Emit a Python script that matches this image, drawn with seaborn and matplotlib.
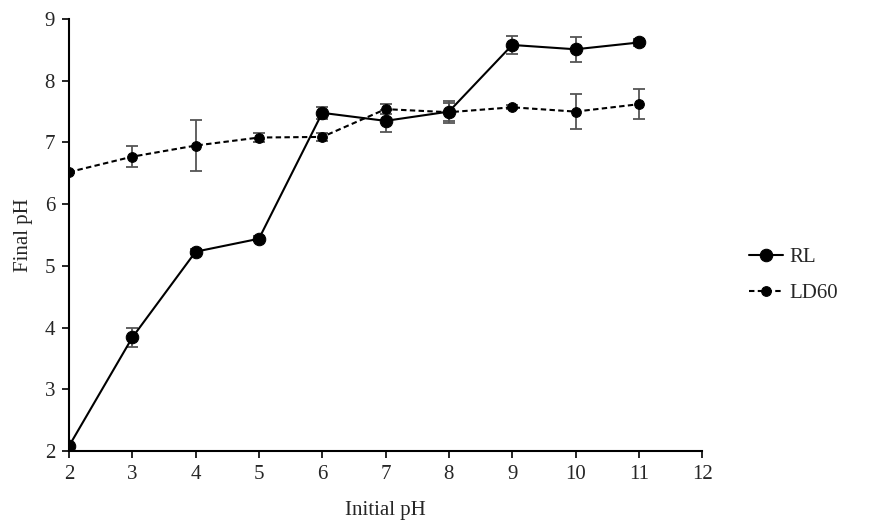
import numpy as np
import pandas as pd
import seaborn as sns
import matplotlib.pyplot as plt

sns.set_theme(style="white")
plt.rcParams['font.family'] = ['Liberation Serif', 'DejaVu Serif']

initial_ph = [2, 3, 4, 5, 6, 7, 8, 9, 10, 11]
rl_final = [2.08, 3.84, 5.23, 5.44, 7.48, 7.35, 7.50, 8.58, 8.51, 8.62]
rl_err = [0.03, 0.16, 0.04, 0.04, 0.10, 0.18, 0.18, 0.15, 0.20, 0.06]
ld60_final = [6.52, 6.77, 6.95, 7.08, 7.09, 7.54, 7.49, 7.57, 7.50, 7.62]
ld60_err = [0.02, 0.17, 0.41, 0.08, 0.07, 0.08, 0.15, 0.03, 0.28, 0.24]

df = pd.concat([
    pd.DataFrame({"Initial pH": initial_ph, "Final pH": rl_final, "err": rl_err, "series": "RL"}),
    pd.DataFrame({"Initial pH": initial_ph, "Final pH": ld60_final, "err": ld60_err, "series": "LD60"}),
])

fig = plt.figure(figsize=(8.69, 5.29), dpi=100)
ax = fig.add_axes([0.0794, 0.1474, 0.7286, 0.8166])

styles = {"RL": dict(dash=(), ms=9), "LD60": dict(dash=(2.6, 1.6), ms=7)}
for name, sub in df.groupby("series", sort=False):
    ax.errorbar(sub["Initial pH"], sub["Final pH"], yerr=sub["err"], fmt="none",
                ecolor="#555555", elinewidth=1.3, capsize=4, capthick=1.3, zorder=2)
    sns.lineplot(data=sub, x="Initial pH", y="Final pH", ax=ax, color="black",
                 marker="o", markersize=styles[name]["ms"],
                 markeredgecolor="black", linewidth=1.5, label=name, zorder=3)
    if styles[name]["dash"]:
        ax.lines[-1].set_dashes(styles[name]["dash"])

ax.set_xlim(2, 12)
ax.set_ylim(2, 9)
ax.set_xticks(range(2, 13))
ax.set_yticks(range(2, 10))
for s in ["top", "right"]:
    ax.spines[s].set_visible(False)
for s in ["left", "bottom"]:
    ax.spines[s].set_color("black")
    ax.spines[s].set_linewidth(1.5)
ax.tick_params(axis="both", direction="out", length=5, width=1.2, color="black",
               labelsize=15, bottom=True, left=True, pad=5)
ax.set_xlabel("Initial pH", fontsize=15, labelpad=12)
ax.set_ylabel("Final pH", fontsize=15, labelpad=8)

ax.legend(loc="center left", bbox_to_anchor=(1.045, 0.407), frameon=False,
          fontsize=15, handlelength=1.6, labelspacing=0.8, handletextpad=0.3)

fig.savefig("out.png", dpi=100)
